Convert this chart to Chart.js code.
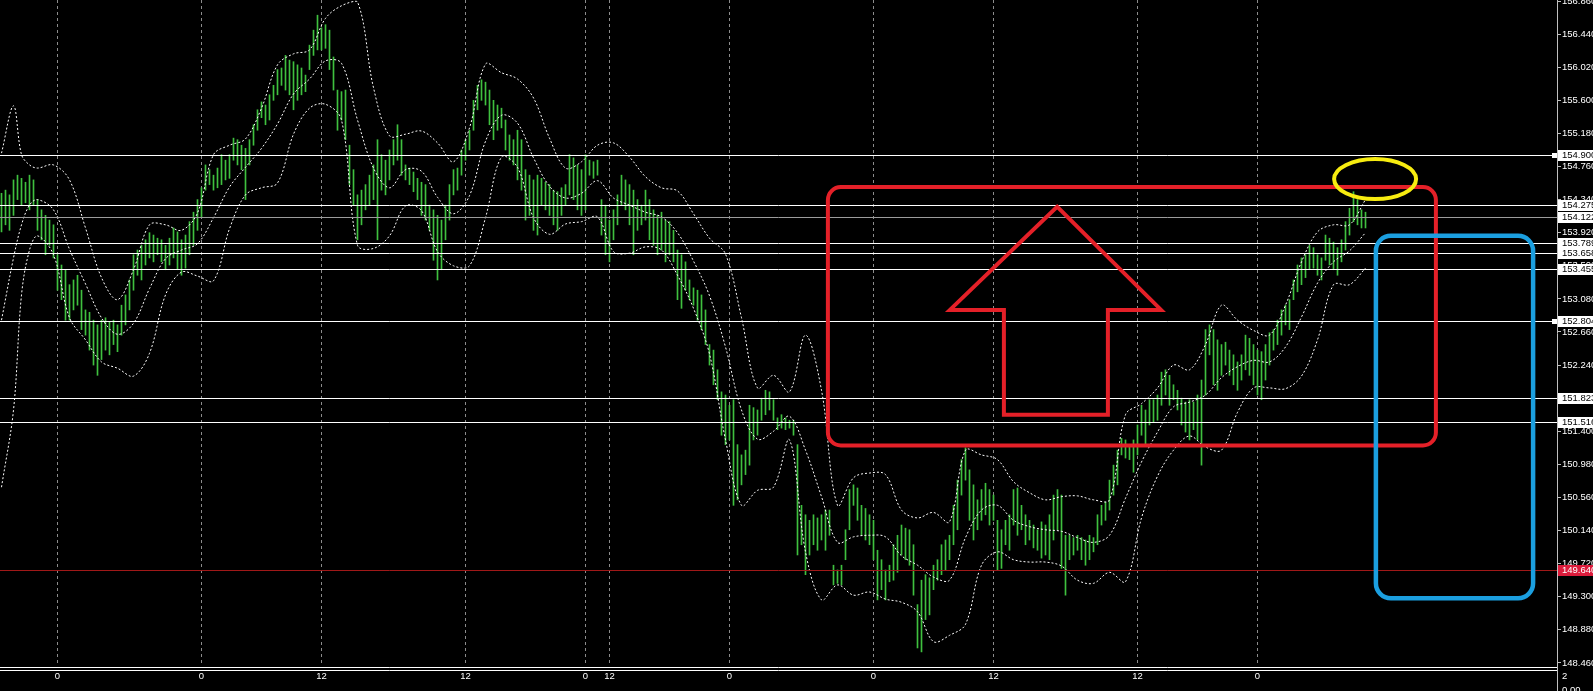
<!DOCTYPE html>
<html>
<head>
<meta charset="utf-8">
<script src="https://cdn.jsdelivr.net/npm/chart.js@4.4.1/dist/chart.umd.min.js"></script>
<style>
  html, body { margin: 0; padding: 0; background: #000; }
  #wrap { width: 1593px; height: 691px; }
</style>
</head>
<body>
<div id="wrap"><canvas id="chart" width="1593" height="691"></canvas></div>
<script>
// ==================== DATA ====================
// one entry per bar, bar index = position on the time axis
const highs = [
  154.42,154.46,154.40,154.59,154.65,154.61,154.56,154.65,154.59,154.34,
  154.21,154.14,154.08,154.02,153.64,153.51,153.45,153.26,153.32,153.38,
  153.19,152.94,152.91,152.81,152.75,152.81,152.84,152.79,152.81,152.75,
  153.00,153.13,153.32,153.64,153.70,153.76,153.83,153.92,153.89,153.85,
  153.83,153.76,153.85,153.98,153.93,153.83,153.89,154.06,154.18,154.34,
  154.49,154.78,154.72,154.65,154.74,154.91,154.84,154.91,155.12,155.10,
  155.03,154.99,155.10,155.29,155.48,155.58,155.54,155.67,155.79,155.99,
  156.01,156.17,156.11,156.09,156.05,156.01,155.92,156.30,156.49,156.68,
  156.52,156.56,156.49,156.15,155.73,155.71,155.73,155.03,154.72,154.40,
  154.46,154.53,154.65,154.78,155.10,154.91,154.84,154.97,155.10,155.29,
  155.10,154.78,154.74,154.69,154.61,154.56,154.53,154.27,154.21,154.14,
  154.08,154.27,154.53,154.72,154.74,154.97,155.10,155.22,155.60,155.79,
  155.86,155.83,155.73,155.60,155.54,155.50,155.35,155.16,155.10,155.22,
  155.10,154.72,154.65,154.59,154.65,154.61,154.56,154.53,154.46,154.44,
  154.49,154.53,154.91,154.87,154.78,154.72,154.91,154.84,154.82,154.84,
  154.34,154.27,154.08,154.21,154.40,154.65,154.59,154.53,154.46,154.34,
  154.27,154.46,154.34,154.21,154.14,154.18,154.08,154.06,153.95,153.70,
  153.64,153.55,153.32,153.22,153.19,153.13,152.94,152.50,152.43,152.18,
  151.90,151.86,151.73,151.80,151.23,151.10,151.16,151.73,151.70,151.67,
  151.82,151.92,151.90,151.80,151.57,151.61,151.57,151.54,151.54,151.23,
  150.46,150.34,150.27,150.34,150.30,150.34,150.40,150.40,149.70,149.64,
  149.70,150.15,150.66,150.72,150.68,150.46,150.42,150.34,150.27,149.89,
  149.77,149.64,149.70,149.96,150.08,150.21,150.17,150.15,149.96,149.20,
  149.51,149.58,149.54,149.70,149.77,149.96,150.02,150.08,150.46,150.78,
  151.04,151.19,150.91,150.72,150.53,150.66,150.74,150.66,150.59,150.27,
  150.15,150.27,150.34,150.66,150.68,150.46,150.34,150.27,150.21,150.15,
  150.25,150.21,150.34,150.59,150.66,150.59,150.08,150.08,150.05,150.08,
  150.05,150.02,150.08,150.05,150.34,150.46,150.50,150.78,150.97,151.16,
  151.31,151.29,151.23,151.29,151.48,151.73,151.67,151.80,151.80,151.86,
  152.15,152.18,152.11,151.99,151.92,151.82,151.77,151.80,151.77,151.86,
  152.05,152.69,152.75,152.69,152.56,152.50,152.53,152.43,152.37,152.28,
  152.37,152.62,152.58,152.50,152.43,152.41,152.50,152.65,152.69,152.81,
  152.94,153.00,153.07,153.32,153.51,153.60,153.64,153.76,153.73,153.64,
  153.60,153.89,153.85,153.80,153.73,153.83,154.06,154.23,154.44,154.34,
  154.21,154.18
];
const lows = [
  153.93,154.02,153.95,154.14,154.34,154.27,154.30,154.21,154.27,153.95,
  153.83,153.64,153.76,153.60,153.19,153.07,152.81,152.81,152.94,153.00,
  152.69,152.62,152.43,152.24,152.11,152.31,152.43,152.37,152.50,152.41,
  152.62,152.75,152.94,153.19,153.38,153.32,153.51,153.60,153.55,153.64,
  153.55,153.45,153.51,153.60,153.45,153.38,153.47,153.64,153.76,153.95,
  154.11,154.46,154.53,154.46,154.49,154.53,154.59,154.61,154.84,154.78,
  154.72,154.34,154.78,155.03,155.22,155.38,155.29,155.35,155.60,155.67,
  155.79,155.73,155.67,155.48,155.60,155.67,155.71,155.99,156.17,156.24,
  156.24,156.26,155.99,155.73,155.22,155.35,155.10,154.53,154.27,153.83,
  154.02,154.21,154.27,154.34,153.83,154.46,154.40,154.59,154.78,154.84,
  154.65,154.59,154.53,154.44,154.34,154.14,154.08,153.95,153.57,153.32,
  153.45,153.83,154.08,154.40,154.46,154.65,154.84,154.97,155.22,155.48,
  155.60,155.54,155.29,155.10,155.22,155.25,154.97,154.84,154.78,154.59,
  154.46,154.08,154.14,153.95,153.89,154.27,154.21,154.14,154.02,153.95,
  154.14,154.27,154.40,154.34,154.21,154.14,154.21,154.65,154.61,154.65,
  153.89,153.64,153.55,153.83,154.02,154.27,154.21,154.02,153.64,153.95,
  154.02,154.08,153.83,153.76,153.64,153.70,153.55,153.64,153.55,153.07,
  152.96,153.19,153.07,153.00,152.81,152.69,152.50,152.24,151.99,151.80,
  151.35,151.23,151.29,150.46,150.53,150.72,150.85,150.97,151.29,151.35,
  151.54,151.61,151.67,151.54,151.42,151.44,151.42,151.44,151.35,149.83,
  149.96,149.58,149.83,149.96,149.89,150.02,149.89,150.08,149.45,149.47,
  149.45,149.77,150.15,150.46,150.27,150.08,150.02,149.96,149.77,149.26,
  149.39,149.26,149.49,149.51,149.61,149.83,149.77,149.70,149.32,148.65,
  148.60,149.01,149.07,149.39,149.51,149.58,149.64,149.77,149.96,150.15,
  150.59,150.78,150.27,150.02,150.15,150.27,150.34,150.21,150.27,149.64,
  149.66,149.96,149.89,150.21,150.08,150.15,149.96,150.02,149.92,149.89,
  149.79,149.83,149.77,150.02,150.15,149.66,149.32,149.77,149.83,149.89,
  149.77,149.70,149.77,149.87,149.96,150.21,150.27,150.40,150.59,150.72,
  151.10,151.06,151.04,150.88,151.10,151.35,151.23,151.48,151.52,151.54,
  151.73,151.86,151.73,151.80,151.67,151.48,151.39,151.29,151.42,151.29,
  150.97,151.86,152.37,151.99,151.92,152.11,152.24,152.11,151.99,151.92,
  152.05,152.18,152.11,151.99,151.86,151.80,152.05,152.24,152.43,152.50,
  152.62,152.75,152.69,153.07,153.17,153.26,153.35,153.45,153.47,153.38,
  153.32,153.57,153.51,153.45,153.38,153.55,153.70,153.89,154.06,154.02,
  153.98,153.98
];

// Bollinger band lines, read at these bar indices
const bandBars = [0,3,5,7,9,13,17,21,25,29,33,37,41,45,49,53,57,61,65,69,73,77,81,85,89,93,97,101,105,109,
  113,117,121,125,129,133,137,141,145,149,153,157,161,165,169,173,177,181,185,189,193,197,201,205,209,213,217,221,225,229,
  233,237,241,245,249,253,257,261,265,269,273,277,281,285,289,293,297,301,305,309,313,317,321,325,329,333,337,341];
const bandUpper = [154.93,155.53,154.91,154.78,154.74,154.78,154.59,153.98,153.35,153.07,
  153.45,154.02,154.02,153.95,154.17,154.91,155.03,155.11,155.50,156.05,
  156.19,156.24,156.64,156.80,156.85,155.76,155.15,155.17,155.21,155.06,
  154.82,155.25,156.06,155.95,155.87,155.63,155.12,154.74,154.82,155.03,
  155.06,154.88,154.63,154.49,154.45,154.16,153.85,153.65,152.84,151.95,
  152.11,151.90,152.62,151.92,150.46,150.81,150.87,150.85,150.40,150.30,
  150.37,150.25,151.16,151.10,151.04,150.76,150.62,150.53,150.57,150.58,
  150.53,150.53,151.61,151.75,151.95,152.24,152.18,152.50,153.00,152.81,
  152.68,152.62,153.00,153.55,153.93,154.02,154.02,154.34];
const bandMiddle = [152.81,153.60,154.02,154.27,154.34,154.21,153.71,153.27,152.84,152.63,
  152.77,153.21,153.59,153.70,153.78,154.11,154.50,154.75,154.99,155.30,
  155.68,155.87,156.10,156.07,155.35,154.74,154.49,154.72,154.70,154.37,
  154.16,154.39,155.08,155.41,155.31,154.87,154.51,154.36,154.42,154.58,
  154.36,154.27,154.18,154.12,153.92,153.56,153.12,152.47,151.67,151.30,
  151.40,151.59,151.16,150.57,149.99,150.06,150.08,150.06,149.82,149.70,
  149.55,149.51,150.05,150.40,150.46,150.27,150.19,150.15,150.13,150.05,
  149.99,150.08,150.55,151.01,151.39,151.71,151.77,151.86,152.08,152.22,
  152.30,152.28,152.47,152.85,153.28,153.55,153.69,153.92];
const bandLower = [150.69,151.67,153.13,153.70,153.88,153.64,152.84,152.56,152.28,152.20,
  152.10,152.39,153.13,153.42,153.37,153.31,153.97,154.40,154.49,154.55,
  155.17,155.50,155.55,155.35,153.76,153.72,153.88,154.26,154.20,153.68,
  153.50,153.50,154.11,154.88,154.75,154.11,153.90,154.03,154.06,154.12,
  153.68,153.66,153.74,153.70,153.38,152.96,152.38,151.29,150.46,150.65,
  150.69,151.29,149.87,149.26,149.45,149.32,149.36,149.27,149.23,149.11,
  148.73,148.81,148.95,149.70,149.87,149.77,149.74,149.74,149.69,149.51,
  149.47,149.61,149.49,150.30,150.83,151.16,151.34,151.20,151.16,151.64,
  151.95,151.95,151.94,152.10,152.56,153.26,153.26,153.47];

// horizontal price levels drawn on the chart
const levelPrices = [154.900, 154.275, 154.122, 153.789, 153.658, 153.455, 152.804, 151.823, 151.516, 149.640];

// price axis and time axis
const priceTicks = [156.86,156.44,156.02,155.60,155.18,154.76,154.34,153.92,153.50,153.08,152.66,
  152.24,151.82,151.40,150.98,150.56,150.14,149.72,149.30,148.88,148.46];
const timeTickBars = [14, 50, 80, 116, 146, 152, 182, 218, 248, 284, 314];
const timeTickLabels = ['0', '0', '12', '12', '0', '12', '0', '0', '12', '12', '0'];

// ==================== STYLE ====================
const FONT = { family: 'Liberation Sans', size: 9.5 };
const BAR_GREEN = '#3fc03f';
const levelStyle = {
  154.122: { line: '#9c9c9c', box: '#ffffff', text: '#000000' },
  149.640: { line: '#a01818', box: '#dc1c3c', text: '#ffffff' }
};
const markedLevels = [154.900, 152.804];

// hand-drawn marks, in bar index / price units
const markup = {
  redBox: { from: [206.6, 154.50], to: [358.6, 151.22], r: 13 },
  arrow: [[263.9, 154.25], [289.9, 152.94], [276.6, 152.94], [276.6, 151.61],
          [250.6, 151.61], [250.6, 152.94], [237.1, 152.94]],
  ellipse: { center: [343.4, 154.60], rx: 10.25, ry: 0.254 },
  blueBox: { from: [343.6, 153.88], to: [382.9, 149.28], r: 15 }
};

function roundRect(ctx, x, y, w, h, r) {
  ctx.beginPath();
  ctx.moveTo(x + r, y);
  ctx.lineTo(x + w - r, y);
  ctx.arcTo(x + w, y, x + w, y + r, r);
  ctx.lineTo(x + w, y + h - r);
  ctx.arcTo(x + w, y + h, x + w - r, y + h, r);
  ctx.lineTo(x + r, y + h);
  ctx.arcTo(x, y + h, x, y + h - r, r);
  ctx.lineTo(x, y + r);
  ctx.arcTo(x, y, x + r, y, r);
  ctx.closePath();
}

const overlay = {
  id: 'overlay',
  beforeDraw(chart) {
    const ctx = chart.ctx;
    ctx.save();
    ctx.fillStyle = '#000';
    ctx.fillRect(0, 0, chart.width, chart.height);
    ctx.restore();
  },
  afterDatasetsDraw(chart) {
    const { ctx, chartArea: a, scales: { x, y } } = chart;
    const px = v => x.getPixelForValue(v);
    const py = v => y.getPixelForValue(v);
    ctx.save();
    ctx.beginPath();
    ctx.rect(a.left, a.top, a.right - a.left, a.bottom - a.top);
    ctx.clip();

    // price levels
    levelPrices.forEach(p => {
      const st = levelStyle[p] || {};
      const yy = Math.round(py(p)) + 0.5;
      ctx.strokeStyle = st.line || '#ffffff';
      ctx.lineWidth = 1;
      ctx.beginPath();
      ctx.moveTo(a.left, yy);
      ctx.lineTo(a.right, yy);
      ctx.stroke();
    });

    // red box + arrow
    const rb = markup.redBox;
    ctx.strokeStyle = '#e42028';
    ctx.lineWidth = 4;
    roundRect(ctx, px(rb.from[0]), py(rb.from[1]), px(rb.to[0]) - px(rb.from[0]), py(rb.to[1]) - py(rb.from[1]), rb.r);
    ctx.stroke();
    ctx.beginPath();
    markup.arrow.forEach((pt, i) => {
      if (i === 0) ctx.moveTo(px(pt[0]), py(pt[1]));
      else ctx.lineTo(px(pt[0]), py(pt[1]));
    });
    ctx.closePath();
    ctx.lineJoin = 'miter';
    ctx.stroke();

    // yellow ellipse
    const el = markup.ellipse;
    ctx.strokeStyle = '#f7ec10';
    ctx.lineWidth = 4;
    ctx.beginPath();
    ctx.ellipse(px(el.center[0]), py(el.center[1]),
      px(el.center[0] + el.rx) - px(el.center[0]),
      py(el.center[1] - el.ry) - py(el.center[1]), 0, 0, Math.PI * 2);
    ctx.stroke();

    // blue box
    const bb = markup.blueBox;
    ctx.strokeStyle = '#1b9fe0';
    ctx.lineWidth = 4.5;
    roundRect(ctx, px(bb.from[0]), py(bb.from[1]), px(bb.to[0]) - px(bb.from[0]), py(bb.to[1]) - py(bb.from[1]), bb.r);
    ctx.stroke();
    ctx.restore();
  },
  afterDraw(chart) {
    const { ctx, chartArea: a, scales: { y } } = chart;
    ctx.save();
    ctx.font = FONT.size + 'px "' + FONT.family + '"';
    ctx.textBaseline = 'middle';
    ctx.textAlign = 'left';

    // label boxes on the price axis
    levelPrices.forEach(p => {
      const st = levelStyle[p] || {};
      const yy = Math.round(y.getPixelForValue(p));
      ctx.fillStyle = st.box || '#ffffff';
      ctx.fillRect(a.right + 1, yy - 5, chart.width - a.right, 11);
      ctx.fillStyle = st.text || '#000000';
      ctx.fillText(p.toFixed(3), a.right + 5, yy + 0.5);
      if (markedLevels.includes(p)) {
        ctx.fillStyle = '#ffffff';
        ctx.fillRect(a.right - 5, yy - 2, 5, 5);
      }
    });

    // separator under the main window + axis line down to the bottom
    ctx.strokeStyle = '#ffffff';
    ctx.lineWidth = 1;
    ctx.beginPath();
    ctx.moveTo(0, a.bottom + 1.5); ctx.lineTo(a.right, a.bottom + 1.5);
    ctx.moveTo(0, a.bottom + 4.5); ctx.lineTo(a.right, a.bottom + 4.5);
    ctx.stroke();
    ctx.strokeStyle = '#c0c0c0';
    ctx.beginPath();
    ctx.moveTo(a.right + 0.5, a.bottom); ctx.lineTo(a.right + 0.5, chart.height);
    ctx.stroke();

    // indicator sub-window scale
    ctx.fillStyle = '#ffffff';
    ctx.fillText('2', a.right + 5, a.bottom + 10);
    ctx.fillText('0.00', a.right + 5, a.bottom + 24);
    ctx.restore();
  }
};

// ==================== CHART ====================
function bandDataset(values) {
  return {
    type: 'line',
    data: bandBars.map((b, k) => ({ x: b, y: values[k] })),
    borderColor: '#ffffff',
    borderWidth: 1,
    borderDash: [2, 2],
    pointRadius: 0,
    tension: 0.35,
    order: 1
  };
}

const barDataset = {
  type: 'bar',
  data: highs.map((h, i) => ({ x: i, y: [lows[i], h] })),
  backgroundColor: BAR_GREEN,
  borderWidth: 0,
  barThickness: 1,
  grouped: false,
  order: 2
};

new Chart(document.getElementById('chart'), {
  type: 'line',
  data: {
    datasets: [bandDataset(bandUpper), bandDataset(bandMiddle), bandDataset(bandLower), barDataset]
  },
  options: {
    responsive: false,
    animation: false,
    devicePixelRatio: 1,
    layout: { padding: 0 },
    plugins: { legend: { display: false }, tooltip: { enabled: false } },
    scales: {
      x: {
        type: 'linear',
        min: -0.375,
        max: 388.875,
        offset: false,
        afterBuildTicks: s => { s.ticks = timeTickBars.map(v => ({ value: v })); },
        afterFit: s => { s.height = 25; s.paddingLeft = 0; s.paddingRight = 0; },
        ticks: {
          color: '#ffffff', font: FONT, padding: 5, maxRotation: 0, autoSkip: false,
          callback: (v, i) => timeTickLabels[i]
        },
        grid: { color: '#8c8c8c', lineWidth: 1, drawTicks: false, offset: false },
        border: { display: false, dash: [3, 3] }
      },
      y: {
        type: 'linear',
        position: 'right',
        min: 148.421,
        max: 156.873,
        afterBuildTicks: s => { s.ticks = priceTicks.map(v => ({ value: v })); },
        afterFit: s => { s.width = 36; s.paddingTop = 0; s.paddingBottom = 0; },
        ticks: {
          color: '#ffffff', font: FONT, padding: 1, autoSkip: false,
          callback: v => v.toFixed(3)
        },
        grid: { drawOnChartArea: false, drawTicks: true, tickLength: 4, color: '#c0c0c0' },
        border: { display: true, color: '#c0c0c0' }
      }
    }
  },
  plugins: [overlay]
});
</script>
</body>
</html>
